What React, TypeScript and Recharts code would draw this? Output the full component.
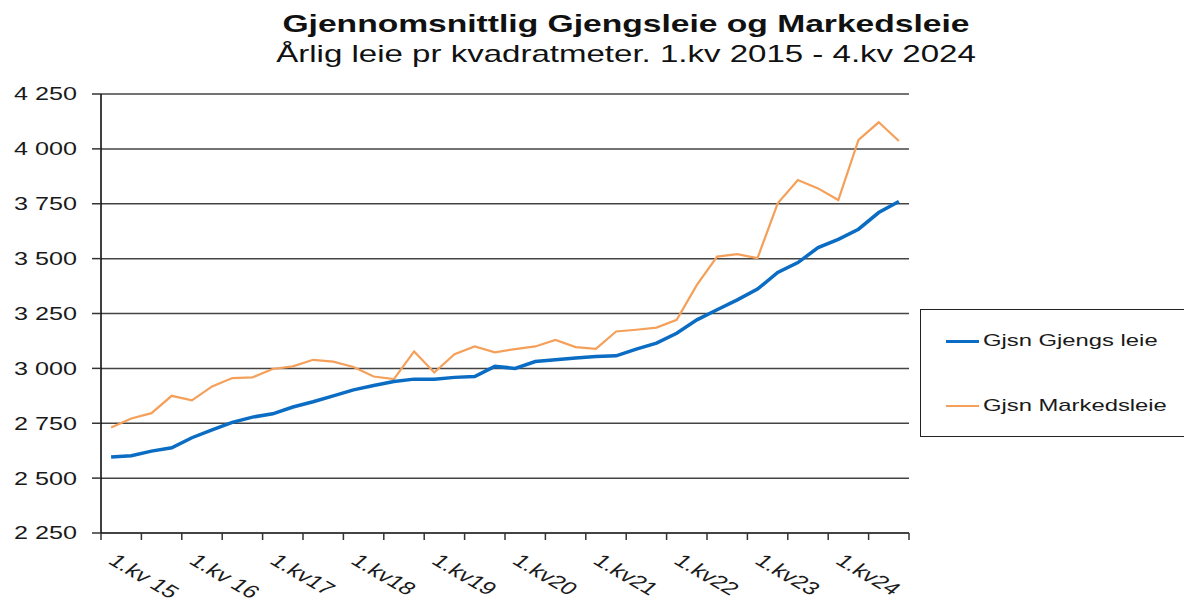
import React from 'react';
import { LineChart, Line, XAxis, YAxis, CartesianGrid } from 'recharts';

// 1.kv 2015 - 4.kv 2024, one entry per quarter
const quarters = [
  '2015K1', '2015K2', '2015K3', '2015K4',
  '2016K1', '2016K2', '2016K3', '2016K4',
  '2017K1', '2017K2', '2017K3', '2017K4',
  '2018K1', '2018K2', '2018K3', '2018K4',
  '2019K1', '2019K2', '2019K3', '2019K4',
  '2020K1', '2020K2', '2020K3', '2020K4',
  '2021K1', '2021K2', '2021K3', '2021K4',
  '2022K1', '2022K2', '2022K3', '2022K4',
  '2023K1', '2023K2', '2023K3', '2023K4',
  '2024K1', '2024K2', '2024K3', '2024K4',
];

const gjengsleie = [
  2596, 2602, 2623, 2638, 2684, 2720, 2754, 2778,
  2793, 2824, 2848, 2875, 2902, 2922, 2940, 2951,
  2951, 2959, 2963, 3009, 3000, 3031, 3039, 3047,
  3054, 3057, 3088, 3115, 3160, 3221, 3267, 3312,
  3361, 3437, 3482, 3550, 3588, 3634, 3710, 3760,
];

const markedsleie = [
  2731, 2772, 2796, 2875, 2854, 2918, 2956, 2959,
  2997, 3009, 3039, 3031, 3006, 2963, 2951, 3077,
  2981, 3065, 3100, 3073, 3088, 3100, 3130, 3097,
  3089, 3168, 3176, 3186, 3221, 3380, 3509, 3520,
  3502, 3752, 3858, 3820, 3767, 4041, 4121, 4036,
];

const yearLabels = [
  '1.kv 15', '1.kv 16', '1.kv17', '1.kv18', '1.kv19',
  '1.kv20', '1.kv21', '1.kv22', '1.kv23', '1.kv24',
];

const yTicks = [2250, 2500, 2750, 3000, 3250, 3500, 3750, 4000, 4250];
const xTicks = Array.from({ length: 21 }, (_, i) => i * 2);

const data = quarters.map((q, i) => ({
  q,
  x: i + 0.5,
  gjengs: gjengsleie[i],
  marked: markedsleie[i],
}));

const FONT = '"Liberation Sans", Arial, sans-serif';
const STRETCH = 1.4;
const PLOT_LEFT = 101;
const PLOT_RIGHT = 909;
const HALF_Q = (PLOT_RIGHT - PLOT_LEFT) / quarters.length / 2;

const fmt = (v: number) => {
  const s = String(v);
  return s.length > 3 ? s.slice(0, s.length - 3) + ' ' + s.slice(-3) : s;
};

const YTick = ({ y, payload }: any) => (
  <g transform={`translate(77, ${y}) scale(${STRETCH}, 1)`}>
    <text x={0} y={0} dy="0.36em" textAnchor="end" fontSize={18} fontFamily={FONT} fill="#1a1a1a">
      {fmt(payload.value)}
    </text>
  </g>
);

const XTick = ({ x, payload }: any) => {
  const v = payload.value;
  if (v % 4 !== 0 || v >= 40) return null;
  return (
    <g transform={`translate(${x + HALF_Q + 7}, 553) scale(${STRETCH}, 1) rotate(39)`}>
      <text x={0} y={0} dy="0.7em" textAnchor="start" fontSize={18} fontFamily={FONT} fill="#1a1a1a">
        {yearLabels[v / 4]}
      </text>
    </g>
  );
};

const Title = ({ top, bold, size, children }: any) => (
  <div
    style={{
      position: 'absolute',
      left: 626,
      top,
      fontFamily: FONT,
      fontSize: size,
      lineHeight: `${size}px`,
      fontWeight: bold ? 'bold' : 'normal',
      color: '#111',
      whiteSpace: 'nowrap',
      transform: `translateX(-50%) scaleX(${STRETCH})`,
    }}
  >
    {children}
  </div>
);

const LegendRow = ({ top, color, width, label }: any) => (
  <div style={{ position: 'absolute', left: 25, top, display: 'flex', alignItems: 'center' }}>
    <div style={{ width: 33, height: width, background: color }} />
    <div
      style={{
        marginLeft: 4,
        fontFamily: FONT,
        fontSize: 17,
        color: '#1a1a1a',
        whiteSpace: 'nowrap',
        transform: `scaleX(${STRETCH})`,
        transformOrigin: 'left center',
      }}
    >
      {label}
    </div>
  </div>
);

export default function App() {
  return (
    <div
      style={{
        position: 'absolute',
        left: 0,
        top: 0,
        width: 1184,
        height: 601,
        overflow: 'hidden',
        background: '#fff',
      }}
    >
      <Title top={12} bold size={24}>Gjennomsnittlig Gjengsleie og Markedsleie</Title>
      <Title top={43} size={23.6}>Årlig leie pr kvadratmeter. 1.kv 2015 - 4.kv 2024</Title>

      <div style={{ position: 'absolute', left: 0, top: 0 }}>
        <LineChart width={1184} height={601} data={data} margin={{ top: 94, right: 275, bottom: 0, left: 0 }}>
          <CartesianGrid horizontal vertical={false} stroke="#444" strokeWidth={1.5} />
          <XAxis
            dataKey="x"
            type="number"
            domain={[0, 40]}
            ticks={xTicks}
            interval={0}
            height={68}
            axisLine={{ stroke: '#333', strokeWidth: 1.5 }}
            tickLine={{ stroke: '#333', strokeWidth: 1.5 }}
            tickSize={7}
            tick={<XTick />}
          />
          <YAxis
            type="number"
            domain={[2250, 4250]}
            ticks={yTicks}
            interval={0}
            width={101}
            axisLine={{ stroke: '#000', strokeWidth: 1.5 }}
            tickLine={{ stroke: '#333', strokeWidth: 1.5 }}
            tickSize={9}
            tick={<YTick />}
          />
          <Line
            type="linear"
            dataKey="marked"
            stroke="#F5A05A"
            strokeWidth={2.2}
            dot={false}
            isAnimationActive={false}
          />
          <Line
            type="linear"
            dataKey="gjengs"
            stroke="#0A6CC2"
            strokeWidth={3.5}
            dot={false}
            isAnimationActive={false}
          />
        </LineChart>
      </div>

      <div
        style={{
          position: 'absolute',
          left: 920,
          top: 309,
          width: 300,
          height: 128,
          border: '1.5px solid #222',
          boxSizing: 'border-box',
          background: '#fff',
        }}
      >
        <LegendRow top={21} color="#0A6CC2" width={3} label="Gjsn Gjengs leie" />
        <LegendRow top={86} color="#F5A05A" width={2} label="Gjsn Markedsleie" />
      </div>
    </div>
  );
}
